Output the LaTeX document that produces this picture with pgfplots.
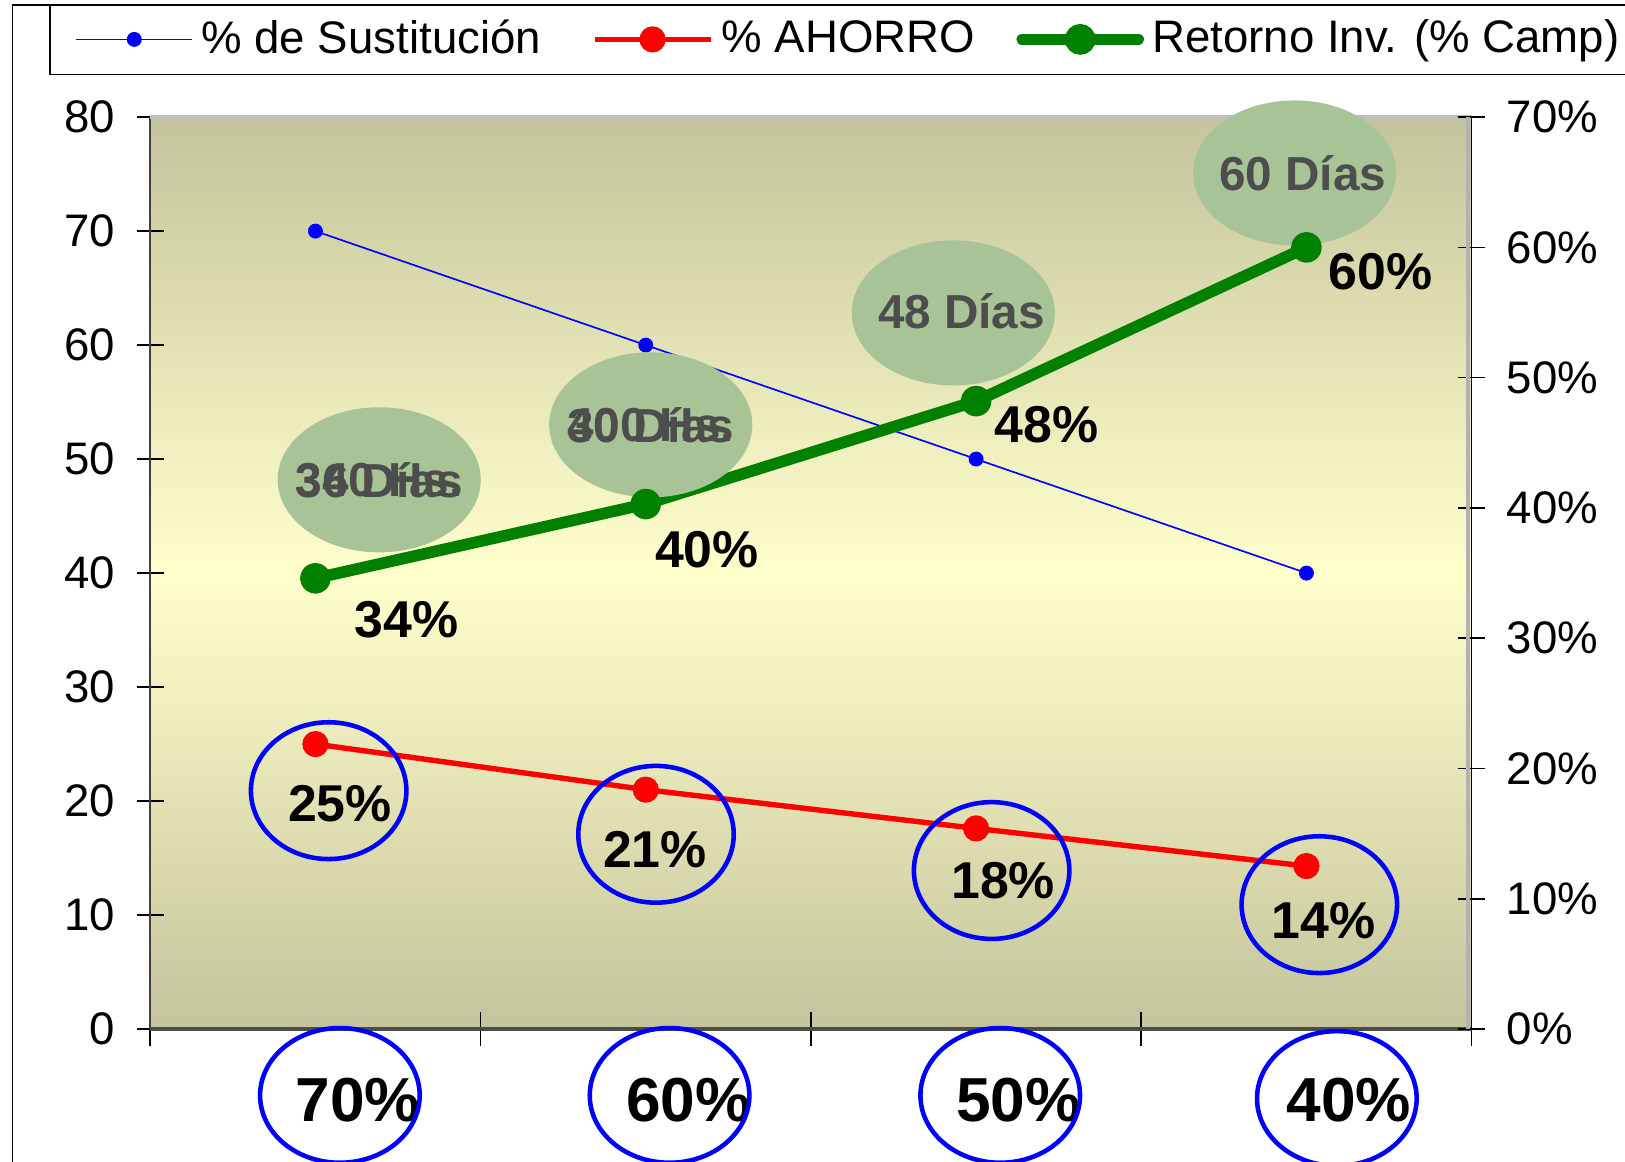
\documentclass[border=0pt]{standalone}
\usepackage{pgfplots}
\pgfplotsset{compat=1.18}
\usepackage{pgfplotstable}
\usepackage{fontspec}
\setmainfont{Liberation Sans}
\usetikzlibrary{shapes.geometric}

\definecolor{bgedge}{HTML}{C4C49C}
\definecolor{bgmid}{HTML}{FFFFCC}
\definecolor{bubble}{HTML}{A8C496}
\definecolor{bubtxt}{HTML}{4D4D4D}
\definecolor{sgreen}{HTML}{008000}

\pgfplotstableread{
x sust ahorro retorno
1 70 25   34.6
2 60 21   40.3
3 50 17.6 48.2
4 40 14.3 60.0
}\datos

\pgfplotsset{
  common/.style={
    at={(36.25pt,32pt)}, anchor=south west,
    scale only axis, width=318.75pt, height=220pt,
    xmin=0.5, xmax=4.5, clip=false,
    axis line style={draw=none},
    tick align=center, major tick length=6.5pt, minor tick length=8.4pt,
    tick style={black, line width=0.4pt},
    /pgf/number format/assume math mode=true,
    yticklabel style={font=\fontsize{11}{13}\selectfont, inner sep=0pt},
  },
}
\tikzset{
  bub/.style={ellipse, fill=bubble, draw=none, inner sep=0pt, minimum width=49pt, minimum height=35pt},
  bubt/.style={text=bubtxt, font=\bfseries\fontsize{11.5}{13}\selectfont, inner sep=0pt},
  ring/.style={ellipse, draw=blue, line width=1.1pt, inner sep=0pt, minimum width=37.5pt, minimum height=33pt},
  lab/.style={font=\bfseries\fontsize{12.5}{15}\selectfont, inner sep=0pt},
}

\begin{document}
\begin{tikzpicture}[x=1pt,y=1pt]
\clip (0,0) rectangle (392,280.25);
\fill[white] (0,0) rectangle (392,280.25);
\draw[black, line width=0.4pt] (3,-5) -- (3,279) -- (400,279);
\draw[black, line width=0.4pt] (400,262.25) -- (12,262.25) -- (12,279);

\begin{axis}[common,
  ymin=0, ymax=80,
  axis background/.style={top color=bgedge, bottom color=bgedge, middle color=bgmid},
  ytick={0,10,...,80}, ytick pos=left,
  yticklabel style={anchor=east, xshift=-5pt},
  xtick={1,2,3,4}, xticklabels={70\%,60\%,50\%,40\%}, xtick pos=bottom,
  major x tick style={draw=none},
  minor xtick={0.5,1.5,2.5,3.5,4.5},
  xticklabel style={font=\bfseries\fontsize{15}{18}\selectfont, anchor=center, inner sep=0pt, xshift=10.25pt, yshift=-14pt},
  legend columns=3,
  legend style={at={(-0.0573,1.0852)}, anchor=west, draw=none, fill=none, inner sep=0pt,
    font=\fontsize{11}{13}\selectfont, /tikz/every even column/.append style={column sep=7pt}},
  legend cell align=left,
  legend image code/.code={\draw[mark repeat=2,mark phase=2,#1] plot coordinates {(0pt,0pt) (14pt,0pt) (28pt,0pt)};},
]
\draw[black!75, line width=0.4pt] (axis description cs:0,0) -- (axis description cs:0,1);
\draw[black!25, line width=1pt] (axis description cs:0,1) -- (axis description cs:1,1);
\draw[black!70, line width=0.8pt] (axis description cs:0,0) -- (axis description cs:1,0);
\addplot[blue, line width=0.4pt, mark=*, mark size=1.6pt, mark options={fill=blue}] table[x=x,y=sust]{\datos};
\addlegendentry{\% de Sustitución\rule{3.25pt}{0pt}}
\addplot[red, line width=1.3pt, mark=*, mark size=2.5pt, mark options={fill=red}] table[x=x,y=ahorro]{\datos};
\addlegendentry{\% AHORRO\rule{1pt}{0pt}}
\addlegendimage{sgreen, line width=2.8pt, line cap=round, mark=*, mark size=2.3pt, mark options={fill=sgreen}}
\addlegendentry{Retorno Inv. (\% Camp)}
\end{axis}

\begin{axis}[common,
  ymin=0, ymax=70,
  hide x axis,
  ytick={0,10,...,70}, ytick pos=right, yticklabel pos=right,
  yticklabel={\pgfmathprintnumber{\tick}\%},
  yticklabel style={anchor=west, xshift=5pt},
]
\draw[black!30, line width=1pt] ([xshift=-0.9pt]axis description cs:1,0) -- ([xshift=-0.9pt]axis description cs:1,1);
\draw[black, line width=0.4pt] (axis description cs:1,0) -- (axis description cs:1,1);
\addplot[sgreen, line width=2.8pt, line cap=round, line join=round, mark=*, mark size=2.3pt, mark options={fill=sgreen}] table[x=x,y=retorno]{\datos};
% etiquetas de la serie verde
\node[lab] at (axis cs:1.275,31.42) {34\%};
\node[lab] at (axis cs:2.185,36.83) {40\%};
\node[lab] at (axis cs:3.214,46.38) {48\%};
\node[lab] at (axis cs:4.224,58.15) {60\%};
% burbujas de dias / horas
\node[bub] at (axis cs:1.193,42.16) {};
\node[bub] at (axis cs:2.015,46.38) {};
\node[bub] at (axis cs:2.931,54.97) {};
\node[bub] at (axis cs:3.964,65.71) {};
\node[bubt] at (axis cs:1.193,42.16) {340 Hs.};
\node[bubt] at (axis cs:1.193,42.16) {36 Días};
\node[bubt] at (axis cs:2.015,46.38) {400 Hs.};
\node[bubt] at (axis cs:2.015,46.38) {30 Días};
\node[bubt] at (axis cs:2.956,55.13) {48 Días};
\node[bubt] at (axis cs:3.989,65.71) {60 Días};
% etiquetas de ahorro
\node[lab] at (axis cs:1.074,17.34) {25\%};
\node[lab] at (axis cs:2.028,13.76) {21\%};
\node[lab] at (axis cs:3.082,11.38) {18\%};
\node[lab] at (axis cs:4.051,8.35) {14\%};
\node[ring] at (axis cs:1.040,18.30) {};
\node[ring] at (axis cs:2.031,14.95) {};
\node[ring] at (axis cs:3.047,12.17) {};
\node[ring] at (axis cs:4.039,9.55) {};
% circulos de las categorias
\node[ring, minimum width=38.5pt, minimum height=32.5pt] at (axis cs:1.074,-5.09) {};
\node[ring, minimum width=38.5pt, minimum height=32.5pt] at (axis cs:2.072,-5.09) {};
\node[ring, minimum width=38.5pt, minimum height=32.5pt] at (axis cs:3.073,-5.09) {};
\node[ring, minimum width=38.5pt, minimum height=32.5pt] at (axis cs:4.092,-5.33) {};
\end{axis}
\end{tikzpicture}
\end{document}
